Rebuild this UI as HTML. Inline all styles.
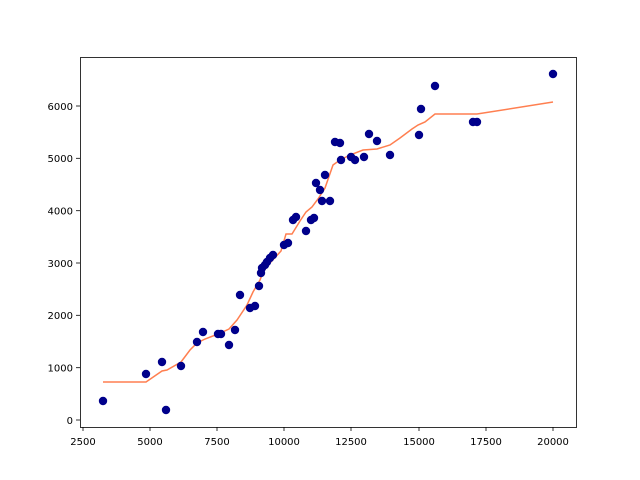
<!DOCTYPE html>
<html><head><style>body{margin:0;background:#fff}svg{display:block}text{font-family:"DejaVu Sans","Liberation Sans",sans-serif;font-size:10px;fill:#000}</style></head><body>
<svg width="640" height="480" xmlns="http://www.w3.org/2000/svg">
<rect width="640" height="480" fill="#fff"/>
<polyline fill="none" stroke="#ff7f50" stroke-width="1.5" points="103,382 146,382 162,371 167,370 181,362 190,350 197,343 205,339 218,334 229,329 237,320 247,305 253,292 260,280 263,272 270,263 281,251 286,234 292,234 300,221 306,212 312,207 318,199 325,188 333,165 340,160 350,155 363,150 377,149 390,145 400,138 412,129 418,125 425,122 435,114 477,114 553,102"/>
<g fill="#00008b">
<circle cx="103" cy="401" r="4.2"/><circle cx="146" cy="374" r="4.2"/><circle cx="162" cy="362" r="4.2"/><circle cx="166" cy="410" r="4.2"/><circle cx="181" cy="366" r="4.2"/><circle cx="197" cy="342" r="4.2"/><circle cx="203" cy="332" r="4.2"/><circle cx="218" cy="334" r="4.2"/><circle cx="221" cy="334" r="4.2"/><circle cx="229" cy="345" r="4.2"/><circle cx="235" cy="330" r="4.2"/><circle cx="240" cy="295" r="4.2"/><circle cx="250" cy="308" r="4.2"/><circle cx="255" cy="306" r="4.2"/><circle cx="259" cy="286" r="4.2"/><circle cx="261" cy="273" r="4.2"/><circle cx="262" cy="268" r="4.2"/><circle cx="265" cy="265" r="4.2"/><circle cx="267" cy="262" r="4.2"/><circle cx="270" cy="258" r="4.2"/><circle cx="273" cy="255" r="4.2"/><circle cx="284" cy="245" r="4.2"/><circle cx="288" cy="243" r="4.2"/><circle cx="293" cy="220" r="4.2"/><circle cx="296" cy="217" r="4.2"/><circle cx="306" cy="231" r="4.2"/><circle cx="311" cy="220" r="4.2"/><circle cx="314" cy="218" r="4.2"/><circle cx="316" cy="183" r="4.2"/><circle cx="320" cy="190" r="4.2"/><circle cx="325" cy="175" r="4.2"/><circle cx="322" cy="201" r="4.2"/><circle cx="330" cy="201" r="4.2"/><circle cx="335" cy="142" r="4.2"/><circle cx="340" cy="143" r="4.2"/><circle cx="341" cy="160" r="4.2"/><circle cx="351" cy="157" r="4.2"/><circle cx="355" cy="160" r="4.2"/><circle cx="364" cy="157" r="4.2"/><circle cx="369" cy="134" r="4.2"/><circle cx="377" cy="141" r="4.2"/><circle cx="390" cy="155" r="4.2"/><circle cx="419" cy="135" r="4.2"/><circle cx="421" cy="109" r="4.2"/><circle cx="435" cy="86" r="4.2"/><circle cx="473" cy="122" r="4.2"/><circle cx="477" cy="122" r="4.2"/><circle cx="553" cy="74" r="4.2"/>
</g>
<rect x="80.5" y="57.5" width="496" height="370" fill="none" stroke="#000" stroke-width="0.8"/>
<g stroke="#000" stroke-width="0.8">
<line x1="83" y1="427" x2="83" y2="431"/><line x1="150" y1="427" x2="150" y2="431"/><line x1="217" y1="427" x2="217" y2="431"/><line x1="284" y1="427" x2="284" y2="431"/><line x1="351" y1="427" x2="351" y2="431"/><line x1="419" y1="427" x2="419" y2="431"/><line x1="486" y1="427" x2="486" y2="431"/><line x1="553" y1="427" x2="553" y2="431"/>
<line x1="76" y1="420" x2="80" y2="420"/><line x1="76" y1="367.7" x2="80" y2="367.7"/><line x1="76" y1="315.3" x2="80" y2="315.3"/><line x1="76" y1="263" x2="80" y2="263"/><line x1="76" y1="210.7" x2="80" y2="210.7"/><line x1="76" y1="158.3" x2="80" y2="158.3"/><line x1="76" y1="106" x2="80" y2="106"/>
</g>
<g text-anchor="middle">
<text x="83" y="445">2500</text><text x="150" y="445">5000</text><text x="217" y="445">7500</text><text x="284" y="445">10000</text><text x="351" y="445">12500</text><text x="419" y="445">15000</text><text x="486" y="445">17500</text><text x="553" y="445">20000</text>
</g>
<g text-anchor="end">
<text x="73" y="424">0</text><text x="73" y="371.5">1000</text><text x="73" y="319">2000</text><text x="73" y="267">3000</text><text x="73" y="214.5">4000</text><text x="73" y="162">5000</text><text x="73" y="110">6000</text>
</g>
</svg>
</body></html>
